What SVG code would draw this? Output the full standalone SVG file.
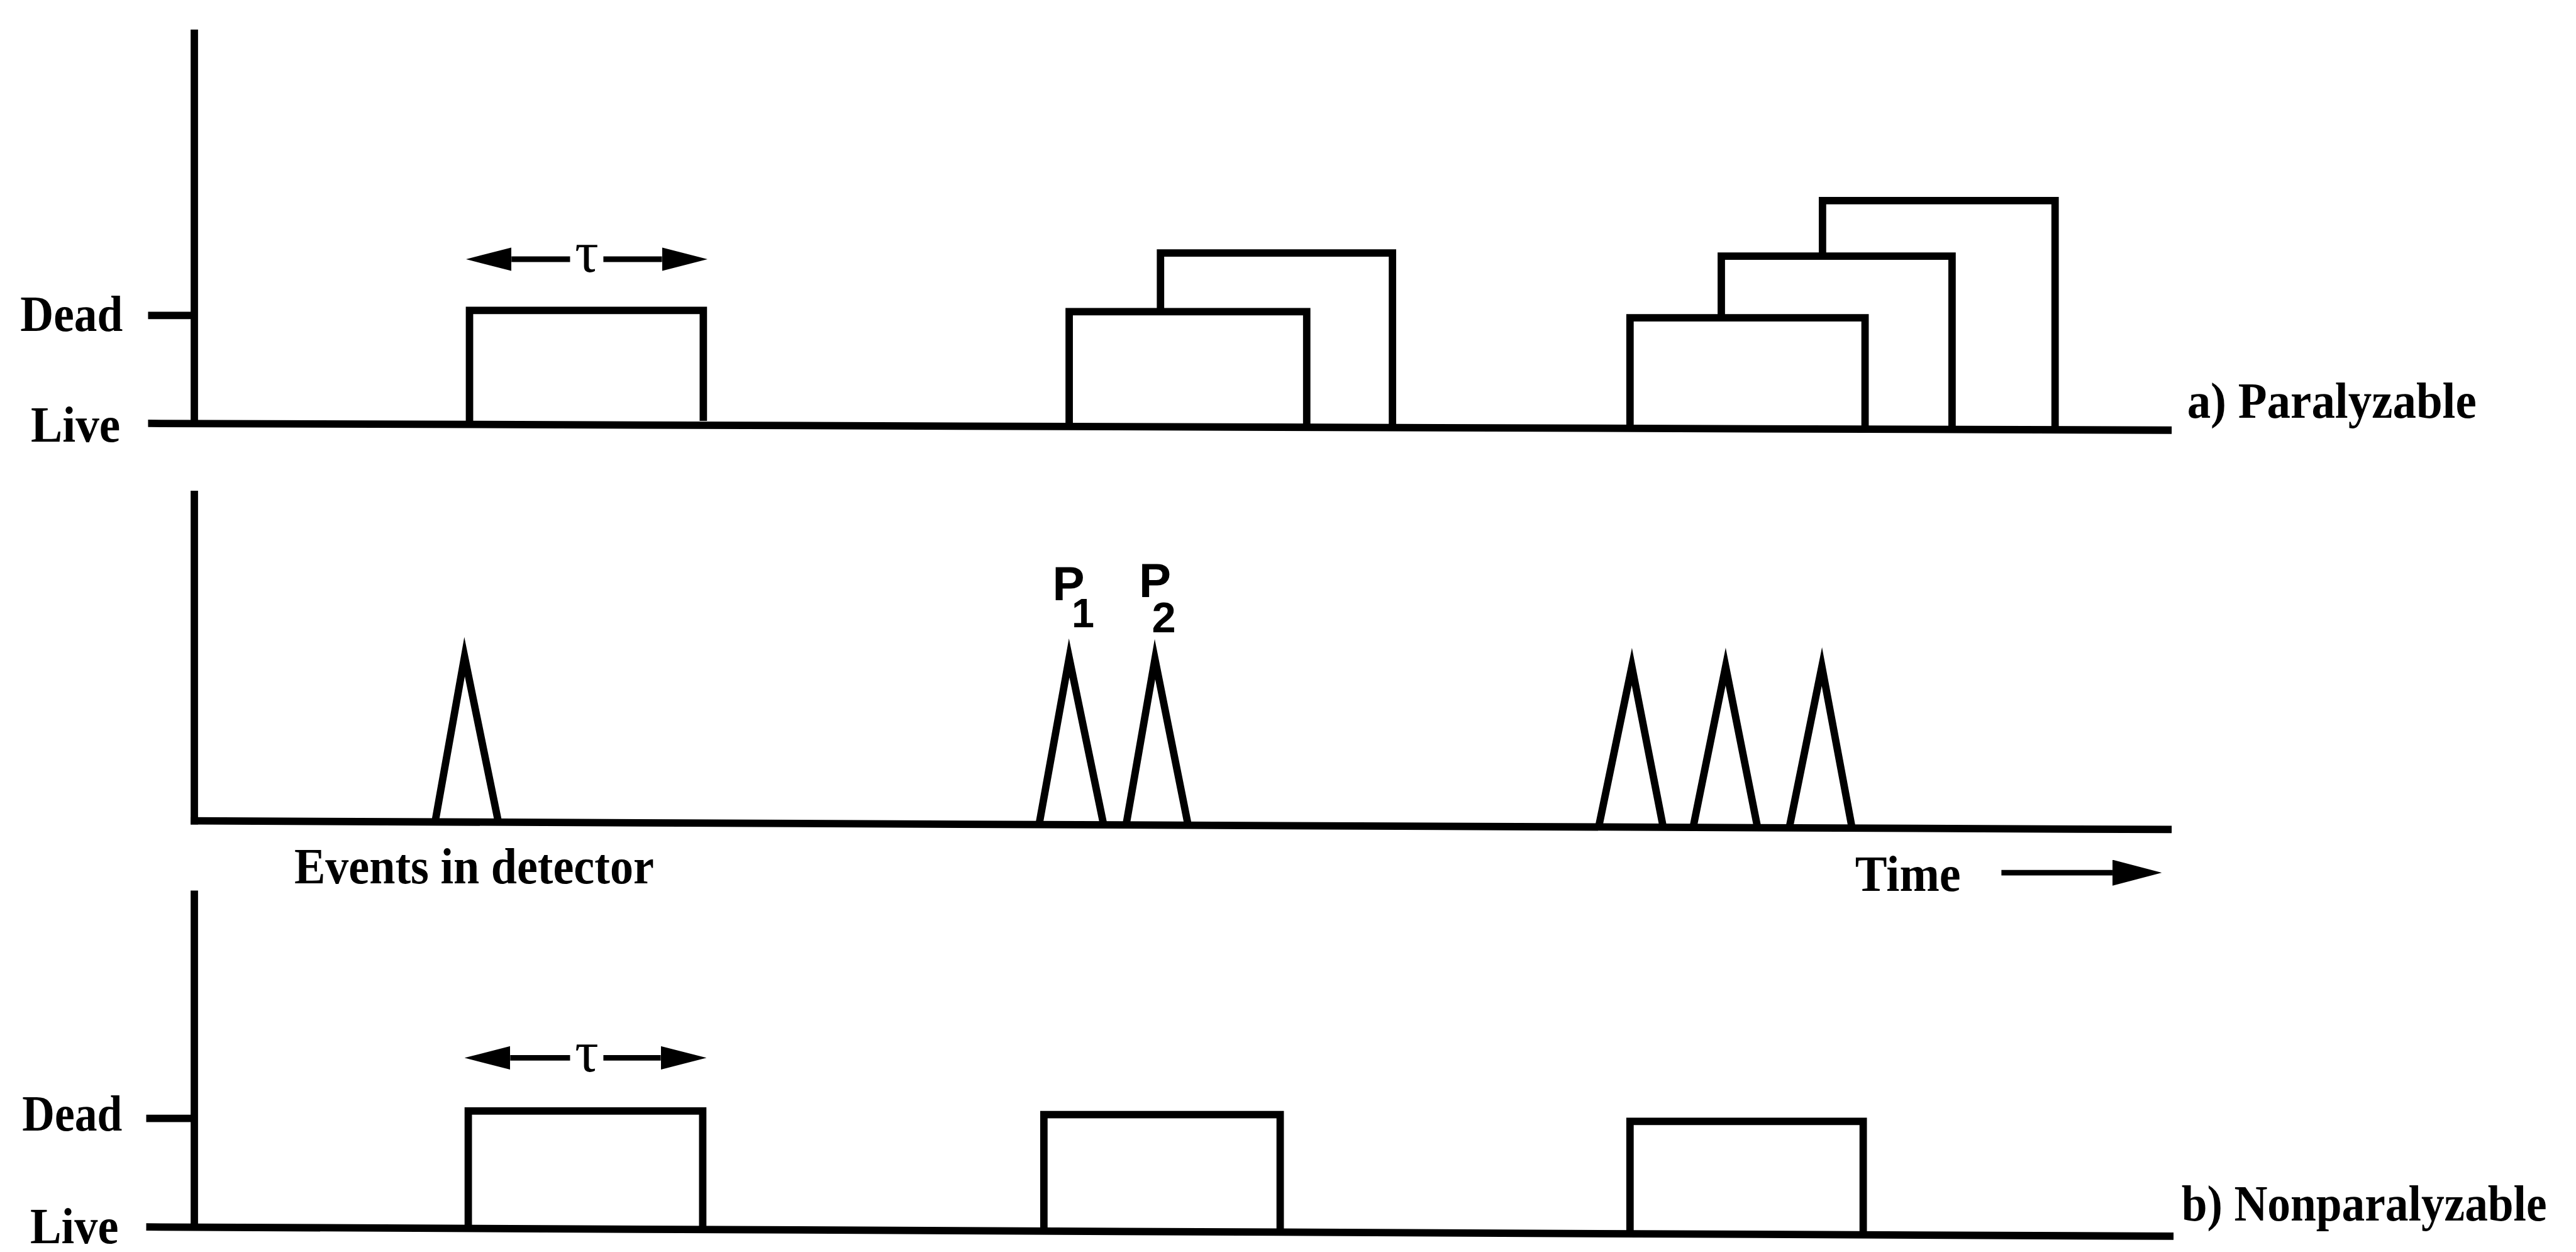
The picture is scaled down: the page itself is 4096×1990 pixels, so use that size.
<svg xmlns="http://www.w3.org/2000/svg" width="4096" height="1990" viewBox="0 0 4096 1990">
<style>
.ln{fill:none;stroke:#000;stroke-width:12;stroke-linecap:butt;stroke-linejoin:miter;stroke-miterlimit:12}
.ar{fill:none;stroke:#000;stroke-width:9}
.lbl{font-family:"Liberation Serif","Times New Roman",serif;font-weight:bold;font-size:82px;fill:#000}
.tau{font-family:"Liberation Serif","Times New Roman",serif;font-size:96px;fill:#000;text-anchor:middle}
.pk{font-family:"Liberation Sans",Arial,sans-serif;font-weight:bold;font-size:78px;fill:#000}
</style>
<defs>
<marker id="ah" viewBox="0 0 74 38" refX="0" refY="19" markerWidth="74" markerHeight="38" markerUnits="userSpaceOnUse" orient="auto"><path d="M0,0 L74,19 L0,38 Z" fill="#000"/></marker>
<marker id="ah2" viewBox="0 0 80 42" refX="0" refY="21" markerWidth="80" markerHeight="42" markerUnits="userSpaceOnUse" orient="auto"><path d="M0,0 L80,21 L0,42 Z" fill="#000"/></marker>
</defs>
<rect width="4096" height="1990" fill="#fff"/>
<g transform="scale(0.981)">
<g id="panel-a">
  <g id="axis-a">
    <path class="ln" d="M315,48 V686"/>
    <path class="ln" d="M240,511 H315"/>
    <path class="ln" d="M240,686 L3520,697"/>
    <text class="lbl" x="33" y="536" textLength="166" lengthAdjust="spacingAndGlyphs">Dead</text>
    <text class="lbl" x="50" y="716" textLength="145" lengthAdjust="spacingAndGlyphs">Live</text>
  </g>
  <g id="a-pulse1"><path class="ln" d="M761,682 V503 H1140 V682"/></g>
  <g id="a-pulse2">
    <path class="ln" d="M1733,688 V505 H2118 V690"/>
    <path class="ln" d="M1881,505 V410 H2257 V691"/>
  </g>
  <g id="a-pulse3">
    <path class="ln" d="M2642,694 V515 H3023 V695"/>
    <path class="ln" d="M2790,515 V415 H3164 V696"/>
    <path class="ln" d="M2954,415 V325 H3331 V697"/>
  </g>
  <g id="a-tau"><text class="tau" x="951" y="440">τ</text></g>
  <g id="a-label"><text class="lbl" x="3545" y="677" textLength="469" lengthAdjust="spacingAndGlyphs">a) Paralyzable</text></g>
</g>
<g id="panel-events">
  <g id="axis-events">
    <path class="ln" d="M315,795 V1336"/>
    <path class="ln" d="M309,1330 L3520,1344"/>
    <text class="lbl" x="477" y="1431" textLength="583" lengthAdjust="spacingAndGlyphs">Events in detector</text>
    <text class="lbl" x="3007" y="1443" textLength="171" lengthAdjust="spacingAndGlyphs">Time</text>
  </g>
  <g id="event1"><path class="ln" d="M705,1333 L753,1064 L808,1333"/></g>
  <g id="event-p1">
    <path class="ln" d="M1684,1337 L1733,1066 L1789,1337"/>
    <text class="pk" x="1706" y="972">P<tspan x="1737" y="1016" font-size="66">1</tspan></text>
  </g>
  <g id="event-p2">
    <path class="ln" d="M1825,1338 L1872,1068 L1926,1338"/>
    <text class="pk" x="1846" y="967">P<tspan x="1867" y="1024" font-size="70">2</tspan></text>
  </g>
  <g id="event3a"><path class="ln" d="M2591,1341 L2645,1080 L2696,1341"/></g>
  <g id="event3b"><path class="ln" d="M2744,1342 L2797,1080 L2849,1342"/></g>
  <g id="event3c"><path class="ln" d="M2900,1342 L2953,1080 L3002,1342"/></g>
</g>
<g id="panel-b">
  <g id="axis-b">
    <path class="ln" d="M315,1443 V1990"/>
    <path class="ln" d="M237,1812 H315"/>
    <path class="ln" d="M237,1988 L3523,2003"/>
    <text class="lbl" x="36" y="1832" textLength="162" lengthAdjust="spacingAndGlyphs">Dead</text>
    <text class="lbl" x="49" y="2014" textLength="143" lengthAdjust="spacingAndGlyphs">Live</text>
  </g>
  <g id="b-pulse1"><path class="ln" d="M759,1991 V1800 H1139 V1992"/></g>
  <g id="b-pulse2"><path class="ln" d="M1692,1995 V1806 H2075 V1996"/></g>
  <g id="b-pulse3"><path class="ln" d="M2642,2000 V1817 H3020 V2001"/></g>
  <g id="b-tau"><text class="tau" x="951" y="1736">τ</text></g>
  <g id="b-label"><text class="lbl" x="3536" y="1978" font-size="76" textLength="592" lengthAdjust="spacingAndGlyphs">b) Nonparalyzable</text></g>
</g>
<g id="connectors">
  <line class="ar" x1="924" y1="420" x2="829" y2="420" marker-end="url(#ah)"/>
  <line class="ar" x1="978" y1="420" x2="1073" y2="420" marker-end="url(#ah)"/>
  <line class="ar" x1="924" y1="1714" x2="827" y2="1714" marker-end="url(#ah)"/>
  <line class="ar" x1="978" y1="1714" x2="1071" y2="1714" marker-end="url(#ah)"/>
  <line class="ar" x1="3244" y1="1414" x2="3424" y2="1414" marker-end="url(#ah2)"/>
</g>
</g>
</svg>
